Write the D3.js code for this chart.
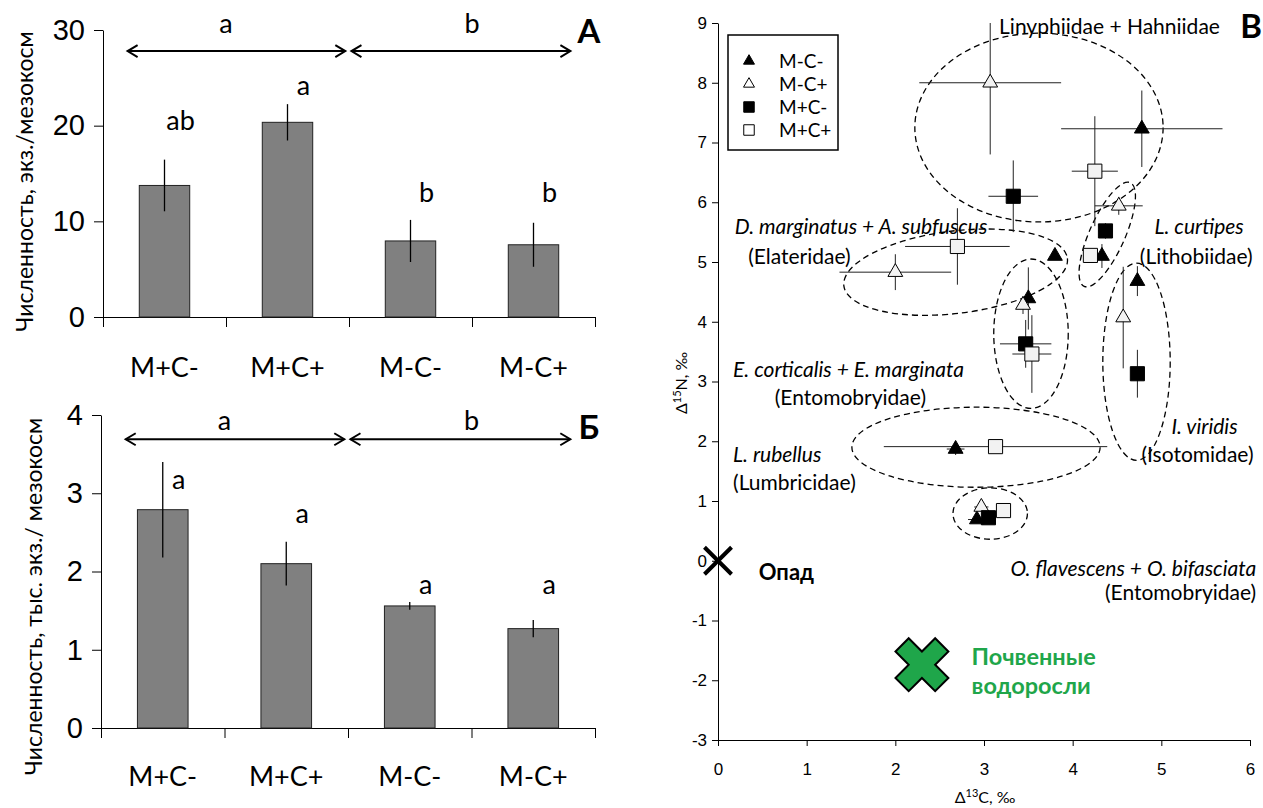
<!DOCTYPE html>
<html>
<head>
<meta charset="utf-8">
<script src="https://cdn.jsdelivr.net/npm/d3@7"></script>
<style>
body{margin:0;background:#fff;}
svg{display:block;font-family:Lato,'Open Sans',sans-serif;}
.axis path,.axis line{stroke:#000;}
</style>
</head>
<body>
<div id="chart"></div>
<script>
// ---------- bar panels (А, Б) ----------
const treatments = ['M+C-', 'M+C+', 'M-C-', 'M-C+'];

const abundanceA = [13.75, 20.35, 7.95, 7.55];
const errorA = [2.7, 1.9, 2.2, 2.3];
const lettersA = ['ab', 'a', 'b', 'b'];
const letterYA = [19.5, 23.2, 12.0, 12.0];
const ticksA = [0, 10, 20, 30];

const abundanceB = [2.79, 2.10, 1.56, 1.27];
const errorB = [0.61, 0.28, 0.05, 0.11];
const lettersB = ['a', 'a', 'a', 'a'];
const letterYB = [3.05, 2.62, 1.71, 1.71];
const ticksB = [0, 1, 2, 3, 4];

// group letters above arrows: left pair vs right pair
const groupLetters = ['a', 'b'];
const groupYA = 29.7, arrowYA = 27.8;
const groupYB = 3.81, arrowYB = 3.69;

// ---------- isotope panel (В) ----------
// [d13C, d15N, sd13C, sd15N]
const seriesMCminus = [
    [4.78, 7.23, 0.91, 0.64],
    [4.33, 5.10, 0.05, 0.20],
    [3.80, 5.10, 0, 0],
    [4.73, 4.68, 0.04, 0.25],
    [3.50, 4.39, 0, 0.52],
    [2.68, 1.87, 0.10, 0.10],
    [2.92, 0.69, 0.10, 0.05]
];
const seriesMCplus = [
    [3.07, 8.00, 0.80, 1.20],
    [4.52, 5.94, 0.27, 0.15],
    [2.00, 4.83, 0.63, 0.30],
    [3.44, 4.28, 0.05, 0.15],
    [4.57, 4.07, 0, 0.85],
    [2.97, 0.90, 0.08, 0.05]
];
const seriesMpCminus = [
    [3.33, 6.10, 0.28, 0.60],
    [4.37, 5.52, 0.08, 0.13],
    [3.47, 3.63, 0.29, 0.40],
    [4.73, 3.13, 0.06, 0.40],
    [3.05, 0.72, 0.05, 0.05]
];
const seriesMpCplus = [
    [4.25, 6.52, 0.26, 0.92],
    [4.20, 5.11, 0.05, 0.05],
    [2.70, 5.26, 0.59, 0.64],
    [3.54, 3.46, 0.22, 0.65],
    [3.13, 1.91, 1.26, 0.05],
    [3.22, 0.84, 0, 0]
];
const seriesNames = ['M-C-', 'M-C+', 'M+C-', 'M+C+'];

// taxon groups: [cx, cy, rx, ry, angle] in data units
const groupEllipses = [
    [3.62, 7.25, 1.40, 1.58, 0],
    [2.68, 4.83, 1.27, 0.69, -7],
    [4.39, 5.46, 0.20, 0.95, 24],
    [3.53, 3.80, 0.42, 1.25, 0],
    [4.72, 3.33, 0.38, 1.65, 0],
    [2.91, 1.90, 1.40, 0.67, 0],
    [3.07, 0.79, 0.42, 0.43, 0]
];

// [text, x, y, anchor, italic]
const taxonLabels = [
    ['Linyphiidae + Hahniidae', 3.17, 8.82, 'start', false],
    ['D. marginatus + A. subfuscus', 0.19, 5.47, 'start', true],
    ['(Elateridae)', 0.34, 4.97, 'start', false],
    ['L. curtipes', 5.93, 5.47, 'end', true],
    ['(Lithobiidae)', 6.03, 4.97, 'end', false],
    ['E. corticalis + E. marginata', 0.17, 3.08, 'start', true],
    ['(Entomobryidae)', 0.64, 2.61, 'start', false],
    ['I. viridis', 5.86, 2.12, 'end', true],
    ['(Isotomidae)', 6.04, 1.65, 'end', false],
    ['L. rubellus', 0.17, 1.65, 'start', true],
    ['(Lumbricidae)', 0.17, 1.18, 'start', false],
    ['O. flavescens + O. bifasciata', 6.07, -0.26, 'end', true],
    ['(Entomobryidae)', 6.07, -0.66, 'end', false]
];

// food sources
const litterPoint = [0, 0];
const algaePoint = [2.30, -1.74];

const W = 1263, H = 808;
const svg = d3.select('#chart').append('svg')
    .attr('width', W)
    .attr('height', H);

function drawArrow(g, x1, x2, y){
    g.append('line').attr('x1', x1).attr('x2', x2).attr('y1', y).attr('y2', y)
        .attr('stroke', '#000').attr('stroke-width', 2);
    g.append('path')
        .attr('d', `M${x1 + 10},${y - 6}L${x1},${y}L${x1 + 10},${y + 6}`)
        .attr('fill', 'none').attr('stroke', '#000').attr('stroke-width', 2);
    g.append('path')
        .attr('d', `M${x2 - 10},${y - 6}L${x2},${y}L${x2 - 10},${y + 6}`)
        .attr('fill', 'none').attr('stroke', '#000').attr('stroke-width', 2);
}

function barPanel(opt){
    let g = svg.append('g');

    let x = d3.scaleBand()
        .domain(treatments)
        .range([opt.left, opt.right])
        .paddingInner(0.59)
        .paddingOuter(0.295);
    let xb = d3.scaleLinear().domain([0, treatments.length]).range([opt.left, opt.right]);
    let y = d3.scaleLinear().domain(opt.domain).range([opt.bottom, opt.top]);

    g.append('g').attr('class', 'axis')
        .attr('transform', `translate(${opt.left},0)`)
        .call(d3.axisLeft(y).tickValues(opt.ticks).tickFormat(d => String(d))
            .tickSize(9).tickSizeOuter(0).tickPadding(9))
        .call(a => a.selectAll('text').attr('font-size', 29).attr('font-family', null).attr('fill', '#000'));

    g.append('g').attr('class', 'axis')
        .attr('transform', `translate(0,${opt.bottom})`)
        .call(d3.axisBottom(xb).tickValues(d3.range(treatments.length + 1)).tickFormat('').tickSize(10).tickSizeOuter(0));

    g.selectAll('.bar')
        .data(opt.values)
        .enter()
        .append('rect')
        .attr('x', (d, i) => x(treatments[i]))
        .attr('width', x.bandwidth())
        .attr('y', d => y(d))
        .attr('height', d => y(0) - y(d))
        .attr('fill', '#808080')
        .attr('stroke', '#222')
        .attr('stroke-width', 1);

    g.selectAll('.err')
        .data(opt.values)
        .enter()
        .append('line')
        .attr('x1', (d, i) => x(treatments[i]) + x.bandwidth() / 2)
        .attr('x2', (d, i) => x(treatments[i]) + x.bandwidth() / 2)
        .attr('y1', (d, i) => y(d + opt.errors[i]))
        .attr('y2', (d, i) => y(d - opt.errors[i]))
        .attr('stroke', '#000')
        .attr('stroke-width', 1.3);

    g.selectAll('.letter')
        .data(opt.letters)
        .enter()
        .append('text')
        .attr('x', (d, i) => x(treatments[i]) + x.bandwidth() / 2 + 16)
        .attr('y', (d, i) => y(opt.letterY[i]))
        .attr('text-anchor', 'middle')
        .attr('font-size', 27)
        .text(d => d);

    g.selectAll('.cat')
        .data(treatments)
        .enter()
        .append('text')
        .attr('x', d => x(d) + x.bandwidth() / 2)
        .attr('y', opt.catY)
        .attr('text-anchor', 'middle')
        .attr('font-size', 27)
        .text(d => d);

    // significance between the two M groups
    let step = x.step();
    drawArrow(g, xb(0) + 0.2 * step, xb(2) - 0.03 * step, y(opt.arrowY));
    drawArrow(g, xb(2) + 0.02 * step, xb(4) - 0.2 * step, y(opt.arrowY));
    g.selectAll('.grp')
        .data(groupLetters)
        .enter()
        .append('text')
        .attr('x', (d, i) => xb(2 * i + 1))
        .attr('y', y(opt.groupY))
        .attr('text-anchor', 'middle')
        .attr('font-size', 27)
        .text(d => d);

    g.append('text')
        .attr('transform', `translate(${opt.titleX},${(opt.top + opt.bottom) / 2 + opt.titleShift}) rotate(-90)`)
        .attr('text-anchor', 'middle')
        .attr('font-size', 23)
        .text(opt.title);

    g.append('text')
        .attr('x', 589).attr('y', opt.panelY)
        .attr('text-anchor', 'middle')
        .attr('font-size', 33)
        .attr('font-weight', 'bold')
        .text(opt.panel);
}

barPanel({
    left: 103, right: 595, top: 30, bottom: 317,
    domain: [0, 30], ticks: ticksA,
    values: abundanceA, errors: errorA,
    letters: lettersA, letterY: letterYA,
    arrowY: arrowYA, groupY: groupYA,
    catY: 377, titleX: 33, titleShift: 8,
    title: 'Численность, экз./мезокосм',
    panel: 'А', panelY: 43
});

barPanel({
    left: 101, right: 595, top: 415, bottom: 728,
    domain: [0, 4], ticks: ticksB,
    values: abundanceB, errors: errorB,
    letters: lettersB, letterY: letterYB,
    arrowY: arrowYB, groupY: groupYB,
    catY: 786, titleX: 42, titleShift: 25,
    title: 'Численность, тыс. экз./ мезокосм',
    panel: 'Б', panelY: 439
});

// ---------- panel В ----------
const gb = svg.append('g');
const xs = d3.scaleLinear().domain([0, 6]).range([718, 1250]);
const ys = d3.scaleLinear().domain([-3, 9]).range([740, 23]);

gb.append('g').attr('class', 'axis')
    .attr('transform', `translate(${xs(0)},0)`)
    .call(d3.axisLeft(ys).ticks(12).tickFormat(d => String(d))
        .tickSize(6).tickSizeOuter(0).tickPadding(5))
    .call(a => a.selectAll('text').attr('font-size', 17).attr('font-family', null).attr('fill', '#000'));

gb.append('g').attr('class', 'axis')
    .attr('transform', `translate(0,${ys(-3)})`)
    .call(d3.axisBottom(xs).ticks(6).tickFormat(d => String(d))
        .tickSize(6).tickSizeOuter(0).tickPadding(17))
    .call(a => a.selectAll('text').attr('font-size', 17).attr('font-family', null).attr('fill', '#000'));

let yt = gb.append('text')
    .attr('transform', `translate(${687},${383}) rotate(-90)`)
    .attr('text-anchor', 'middle')
    .attr('font-size', 16);
yt.append('tspan').text('Δ');
yt.append('tspan').attr('font-size', 11).attr('dy', -6).text('15');
yt.append('tspan').attr('dy', 6).text('N, ‰');

let xt = gb.append('text')
    .attr('x', 985).attr('y', 803)
    .attr('text-anchor', 'middle')
    .attr('font-size', 16);
xt.append('tspan').text('Δ');
xt.append('tspan').attr('font-size', 11).attr('dy', -6).text('13');
xt.append('tspan').attr('dy', 6).text('C, ‰');

// dashed group outlines
gb.selectAll('.grp-ellipse')
    .data(groupEllipses)
    .enter()
    .append('ellipse')
    .attr('transform', d => `translate(${xs(d[0])},${ys(d[1])}) rotate(${d[4]})`)
    .attr('rx', d => xs(d[2]) - xs(0))
    .attr('ry', d => ys(0) - ys(d[3]))
    .attr('fill', 'none')
    .attr('stroke', '#000')
    .attr('stroke-width', 1.3)
    .attr('stroke-dasharray', '6,4');

const allSeries = [seriesMCminus, seriesMCplus, seriesMpCminus, seriesMpCplus];
const symbolType = [d3.symbolTriangle, d3.symbolTriangle, d3.symbolSquare, d3.symbolSquare];
const symbolSize = [95, 95, 200, 200];
const symbolFill = ['#000', '#f2f2f2', '#000', '#f2f2f2'];
const clampY = v => Math.max(-3, Math.min(9, v));

allSeries.forEach((series, s) => {
    let sg = gb.append('g');
    sg.selectAll('.xerr')
        .data(series.filter(d => d[2] > 0))
        .enter()
        .append('line')
        .attr('x1', d => xs(d[0] - d[2]))
        .attr('x2', d => xs(d[0] + d[2]))
        .attr('y1', d => ys(d[1]))
        .attr('y2', d => ys(d[1]))
        .attr('stroke', '#222')
        .attr('stroke-width', 1);
    sg.selectAll('.yerr')
        .data(series.filter(d => d[3] > 0))
        .enter()
        .append('line')
        .attr('x1', d => xs(d[0]))
        .attr('x2', d => xs(d[0]))
        .attr('y1', d => ys(clampY(d[1] + d[3])))
        .attr('y2', d => ys(clampY(d[1] - d[3])))
        .attr('stroke', '#222')
        .attr('stroke-width', 1);
});

allSeries.forEach((series, s) => {
    gb.append('g').selectAll('.pt')
        .data(series)
        .enter()
        .append('path')
        .attr('d', d3.symbol(symbolType[s], symbolSize[s]))
        .attr('transform', d => `translate(${xs(d[0])},${ys(d[1])})`)
        .attr('fill', symbolFill[s])
        .attr('stroke', '#000')
        .attr('stroke-width', 1);
});

// legend
const lg = gb.append('g');
lg.append('rect')
    .attr('x', 728).attr('y', 35).attr('width', 110).attr('height', 115)
    .attr('fill', '#fff').attr('stroke', '#000').attr('stroke-width', 1.5);
seriesNames.forEach((name, s) => {
    let ly = 61 + s * 23;
    lg.append('path')
        .attr('d', d3.symbol(symbolType[s], symbolSize[s] * 0.55))
        .attr('transform', `translate(749,${ly})`)
        .attr('fill', s % 2 === 0 ? '#000' : '#fff')
        .attr('stroke', '#000')
        .attr('stroke-width', 1);
    lg.append('text')
        .attr('x', 779).attr('y', ly + 7)
        .attr('font-size', 19)
        .text(name);
});

// taxon labels
gb.selectAll('.taxon')
    .data(taxonLabels)
    .enter()
    .append('text')
    .attr('x', d => xs(d[1]))
    .attr('y', d => ys(d[2]))
    .attr('text-anchor', d => d[3])
    .attr('font-style', d => d[4] ? 'italic' : 'normal')
    .attr('font-size', 21)
    .text(d => d[0]);

// litter (black X) and soil algae (green cross)
gb.append('path')
    .attr('d', d3.symbol(d3.symbolX, 480))
    .attr('transform', `translate(${xs(litterPoint[0])},${ys(litterPoint[1])})`)
    .attr('fill', 'none')
    .attr('stroke', '#000')
    .attr('stroke-width', 4);
gb.append('text')
    .attr('x', xs(0.46)).attr('y', ys(-0.32))
    .attr('font-size', 22).attr('font-weight', 'bold')
    .text('Опад');

gb.append('path')
    .attr('d', d3.symbol(d3.symbolCross, 1750))
    .attr('transform', `translate(${xs(algaePoint[0])},${ys(algaePoint[1])}) rotate(45)`)
    .attr('fill', '#1fa64a')
    .attr('stroke', '#000')
    .attr('stroke-width', 2);
gb.append('text')
    .attr('x', xs(2.86)).attr('y', ys(-1.74))
    .attr('font-size', 23.5).attr('font-weight', 'bold').attr('fill', '#1fa64a')
    .text('Почвенные');
gb.append('text')
    .attr('x', xs(2.86)).attr('y', ys(-2.23))
    .attr('font-size', 23.5).attr('font-weight', 'bold').attr('fill', '#1fa64a')
    .text('водоросли');

gb.append('text')
    .attr('x', 1262).attr('y', 38)
    .attr('text-anchor', 'end')
    .attr('font-size', 33).attr('font-weight', 'bold')
    .text('В');
</script>
</body>
</html>
